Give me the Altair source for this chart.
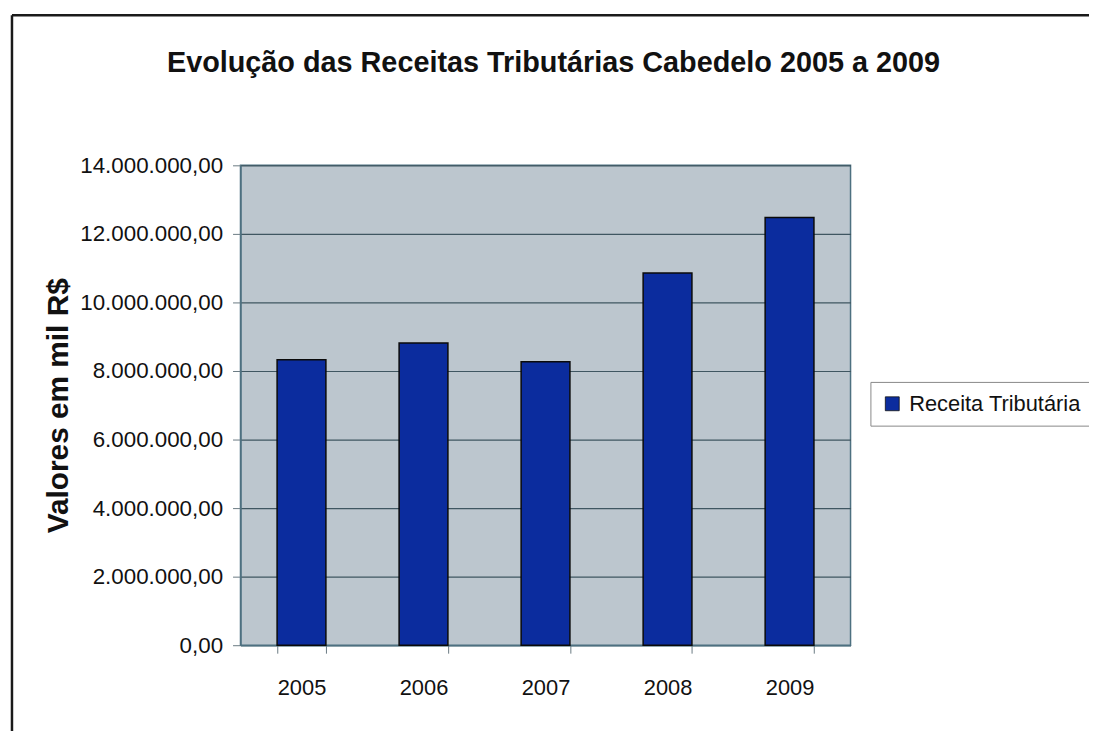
import altair as alt
import pandas as pd

anos = ["2005", "2006", "2007", "2008", "2009"]
receita = [8330000, 8820000, 8270000, 10860000, 12480000]
serie = ["Receita Tributária"] * 5

df = pd.DataFrame({"Ano": anos, "Valor": receita, "Serie": serie})

FONT = "Liberation Sans, Arial"
W, H = 614, 483

bars = alt.Chart(df).mark_bar(
    stroke="#0a0a0a", strokeWidth=1.5
).encode(
    x=alt.X("Ano:N", title=None,
            scale=alt.Scale(paddingInner=0.6, paddingOuter=0.3),
            axis=alt.Axis(labelAngle=0, labelFontSize=22, labelFont=FONT,
                          labelColor="#111111", labelPadding=25,
                          tickBand="extent", tickSize=8, tickColor="#6a7a82",
                          domainColor="#4d7080", domainWidth=1.5, grid=False)),
    y=alt.Y("Valor:Q", title="Valores em mil R$",
            scale=alt.Scale(domain=[0, 14000000]),
            axis=alt.Axis(format=",.2f", values=list(range(0, 14000001, 2000000)),
                          labelFontSize=22.5, labelFont=FONT, labelColor="#111111",
                          tickSize=8, tickColor="#6a7a82", domainColor="#4d7080",
                          domainWidth=1.5, labelPadding=10,
                          titleFont=FONT, titleFontSize=30,
                          titleFontWeight="bold", titleColor="#111111",
                          titlePadding=6,
                          gridColor="#3f5661", gridWidth=1.2, gridOpacity=1)),
    color=alt.Color("Serie:N", title=None,
                    scale=alt.Scale(range=["#0b2c9e"]),
                    legend=alt.Legend(orient="none", legendX=634, legendY=218,
                                      labelFontSize=22, labelFont=FONT,
                                      labelColor="#111111", labelOffset=6,
                                      symbolType="square", symbolSize=196,
                                      symbolStrokeColor="#111111", symbolStrokeWidth=0.8,
                                      fillColor="white", strokeColor="#888888",
                                      padding=11, labelLimit=400)),
)

frame_df = pd.DataFrame({"k": [0]})
frame_left = alt.Chart(frame_df).mark_rule(color="#1a1a1a", strokeWidth=2.5).encode(
    x=alt.value(-230), y=alt.value(-151), y2=alt.value(H + 100)
)
frame_top = alt.Chart(frame_df).mark_rule(color="#1a1a1a", strokeWidth=2.5).encode(
    x=alt.value(-230), x2=alt.value(W + 300), y=alt.value(-151)
)

chart = alt.layer(bars, frame_left, frame_top).properties(
    width=W,
    height=H,
    title=alt.TitleParams("Evolução das Receitas Tributárias Cabedelo 2005 a 2009",
                          fontSize=29, font=FONT, fontWeight="bold",
                          color="#111111", anchor="middle", offset=-64, dx=8),
    autosize=alt.AutoSizeParams(type="none"),
    padding={"left": 234, "top": 156, "right": 240, "bottom": 84},
).configure(
    locale={"number": {"decimal": ",", "thousands": ".", "grouping": [3],
                       "currency": ["R$", ""]}},
    background="white",
).configure_view(
    fill="#bcc6ce", stroke="#4d7080", strokeWidth=1.5
)

chart.save("out.html", embed_options={"renderer": "svg", "actions": False})
